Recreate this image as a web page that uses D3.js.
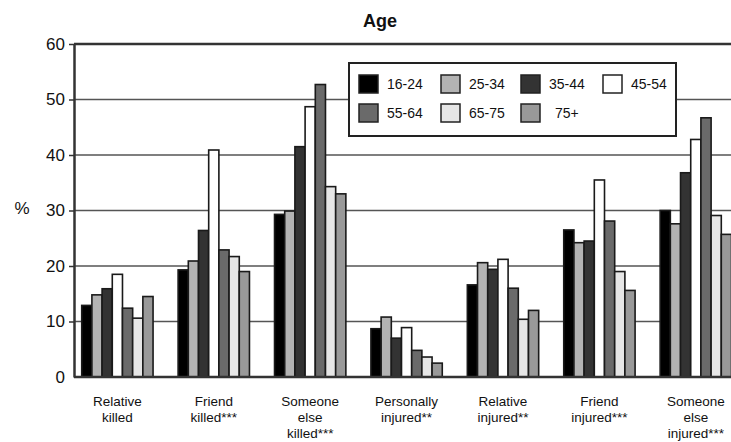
<!DOCTYPE html>
<html>
<head>
<meta charset="utf-8">
<script src="https://cdn.jsdelivr.net/npm/d3@7"></script>
<style>
  html, body { margin: 0; padding: 0; background: #fff; }
  svg { display: block; font-family: "Liberation Sans", Arial, sans-serif; }
</style>
</head>
<body>
<svg id="chart" width="731" height="442"></svg>
<script>
// ---- data ----
const categories = [
  "Relative\nkilled",
  "Friend\nkilled***",
  "Someone\nelse\nkilled***",
  "Personally\ninjured**",
  "Relative\ninjured**",
  "Friend\ninjured***",
  "Someone\nelse\ninjured***"
];
const ageGroups = ["16-24", "25-34", "35-44", "45-54", "55-64", "65-75", "75+"];
const s16_24 = [12.9, 19.3, 29.3, 8.7, 16.6, 26.5, 30.0];
const s25_34 = [14.8, 20.9, 29.9, 10.8, 20.6, 24.2, 27.6];
const s35_44 = [15.9, 26.4, 41.5, 7.0, 19.4, 24.5, 36.8];
const s45_54 = [18.5, 40.9, 48.7, 8.9, 21.2, 35.5, 42.8];
const s55_64 = [12.4, 22.9, 52.7, 4.8, 16.0, 28.1, 46.7];
const s65_75 = [10.6, 21.7, 34.3, 3.6, 10.4, 19.0, 29.1];
const s75p   = [14.5, 19.0, 33.0, 2.5, 12.0, 15.6, 25.7];
const yTicks = [0, 10, 20, 30, 40, 50, 60];
const seriesValues = [s16_24, s25_34, s35_44, s45_54, s55_64, s65_75, s75p];
const fills = ["#000000", "#b3b3b3", "#333333", "#ffffff", "#6a6a6a", "#e6e6e6", "#999999"];

// ---- layout ----
const svg = d3.select("#chart");
const axisX = 74, baseY = 377, topY = 44, rightX = 731;

const x0 = d3.scaleBand().domain(categories)
  .range([axisX, 739.2]).paddingInner(0.26).paddingOuter(0.08);
const x1 = d3.scaleBand().domain(ageGroups).range([0, x0.bandwidth()]).padding(0);
const y = d3.scaleLinear().domain([0, 60]).range([baseY, topY]);
const color = d3.scaleOrdinal().domain(ageGroups).range(fills);

// gridlines
svg.append("g").selectAll("line")
  .data(yTicks.filter(t => t > 0))
  .join("line")
  .attr("x1", axisX).attr("x2", rightX)
  .attr("y1", d => y(d)).attr("y2", d => y(d))
  .attr("stroke", d => d === 60 ? "#333" : "#555")
  .attr("stroke-width", d => d === 60 ? 2.5 : 1.5);

// bars
const rows = [];
categories.forEach((c, ci) => {
  ageGroups.forEach((a, ai) => rows.push({ cat: c, age: a, value: seriesValues[ai][ci] }));
});
svg.append("g").selectAll("rect")
  .data(rows)
  .join("rect")
  .attr("x", d => x0(d.cat) + x1(d.age))
  .attr("y", d => y(d.value))
  .attr("width", x1.bandwidth())
  .attr("height", d => baseY - y(d.value))
  .attr("fill", d => color(d.age))
  .attr("stroke", "#1a1a1a")
  .attr("stroke-width", 1.6);

// x baseline
svg.append("line")
  .attr("x1", axisX).attr("x2", rightX)
  .attr("y1", baseY).attr("y2", baseY)
  .attr("stroke", "#333").attr("stroke-width", 2.5);

// y axis
const yAxis = d3.axisLeft(y).tickValues(yTicks).tickSize(5).tickSizeOuter(0).tickPadding(4);
const gy = svg.append("g").attr("transform", `translate(${axisX},0)`).call(yAxis);
gy.select(".domain").attr("stroke", "#333").attr("stroke-width", 2.5);
gy.selectAll(".tick line").attr("stroke", "#333").attr("stroke-width", 1.5)
  .attr("opacity", d => d === 0 ? 0 : 1);
gy.selectAll(".tick text")
  .attr("font-size", 17).attr("fill", "#111")
  .attr("font-family", "'Liberation Sans', Arial, sans-serif");

// % label
svg.append("text").attr("x", 22).attr("y", 214)
  .attr("text-anchor", "middle").attr("font-size", 17).attr("fill", "#111").text("%");

// title
svg.append("text").attr("x", 380).attr("y", 27)
  .attr("text-anchor", "middle").attr("font-size", 18).attr("font-weight", "bold")
  .attr("fill", "#111").text("Age");

// category labels
const catLabels = svg.append("g").selectAll("text")
  .data(categories)
  .join("text")
  .attr("x", d => x0(d) + x0.bandwidth() / 2)
  .attr("y", 406)
  .attr("text-anchor", "middle")
  .attr("font-size", 13.5)
  .attr("fill", "#111");
catLabels.each(function(d) {
  const t = d3.select(this);
  d.split("\n").forEach((line, i) => {
    t.append("tspan").attr("x", x0(d) + x0.bandwidth() / 2)
      .attr("dy", i === 0 ? 0 : 16).text(line);
  });
});

// legend
const lg = svg.append("g");
lg.append("rect").attr("x", 349).attr("y", 63).attr("width", 327).attr("height", 73)
  .attr("fill", "#fff").attr("stroke", "#222").attr("stroke-width", 2);
const colX = [359, 441, 521, 603];
const rowY = [75, 104];
ageGroups.forEach((a, i) => {
  const cx = colX[i % 4], ry = rowY[Math.floor(i / 4)];
  lg.append("rect").attr("x", cx).attr("y", ry).attr("width", 19).attr("height", 18)
    .attr("fill", color(a)).attr("stroke", "#222").attr("stroke-width", 1.5);
  lg.append("text").attr("x", cx + (a === "75+" ? 34 : 28)).attr("y", ry + 14)
    .attr("font-size", 14).attr("fill", "#111").text(a);
});
</script>
</body>
</html>
